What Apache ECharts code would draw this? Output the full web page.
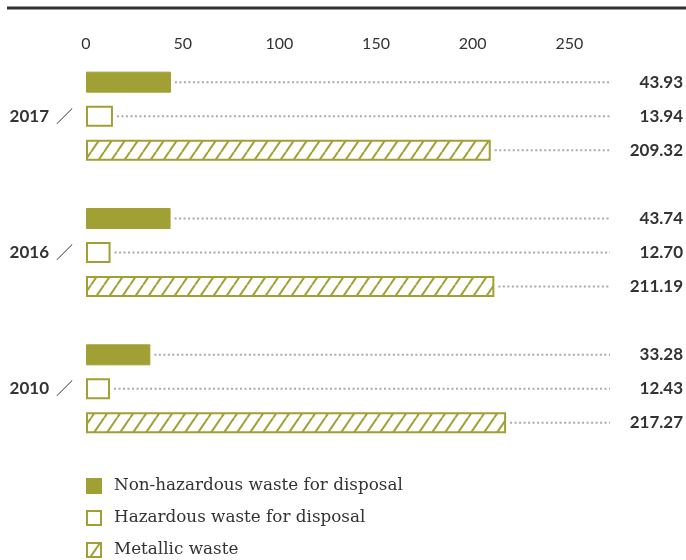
<!DOCTYPE html>
<html>
<head>
<meta charset="utf-8">
<script src="https://cdn.jsdelivr.net/npm/echarts@6/dist/echarts.min.js"></script>
<style>
  html, body { margin: 0; padding: 0; background: #fff; }
  #chart { width: 686px; height: 560px; }
</style>
</head>
<body>
<div id="chart"></div>
<script>
// data
const years = ['2017', '2016', '2010'];
const nonHazardous = [43.93, 43.74, 33.28];
const hazardous = [13.94, 12.70, 12.43];
const metallic = [209.32, 211.19, 217.27];
const seriesNames = ['Non-hazardous waste for disposal', 'Hazardous waste for disposal', 'Metallic waste'];
const xMax = 271;
const xStep = 50;

const olive = '#a1a034';
const barW = 21;
const gapRatio = 0.62;

// hatch pattern for metallic waste
function makeHatch() {
  const c = document.createElement('canvas');
  const w = 13, h = 19;
  c.width = w; c.height = h;
  const ctx = c.getContext('2d');
  ctx.fillStyle = '#fff';
  ctx.fillRect(0, 0, w, h);
  ctx.strokeStyle = olive;
  ctx.lineWidth = 2;
  [-w, 0, w].forEach(off => {
    ctx.beginPath();
    ctx.moveTo(off, h);
    ctx.lineTo(off + w, 0);
    ctx.stroke();
  });
  return c;
}

// rows for the dotted leader lines + value text
const rows = [];
[nonHazardous, hazardous, metallic].forEach((arr, k) => {
  arr.forEach((v, i) => rows.push([v, i, k]));
});

const chart = echarts.init(document.getElementById('chart'));

const option = {
  animation: false,
  grid: { left: 86, right: 76, top: 48, bottom: 103 },
  graphic: [{
    type: 'line',
    shape: { x1: 7, y1: 8, x2: 686, y2: 8 },
    style: { stroke: '#333', lineWidth: 3 }
  }],
  xAxis: {
    type: 'value',
    position: 'top',
    min: 0,
    max: xMax,
    interval: xStep,
    axisLine: { show: false },
    axisTick: { show: false },
    splitLine: { show: false },
    axisLabel: {
      margin: -4,
      showMaxLabel: false,
      color: '#333',
      fontFamily: 'Lato',
      fontSize: 16
    }
  },
  yAxis: {
    type: 'category',
    data: years,
    inverse: true,
    axisLine: { show: false },
    axisTick: { show: false },
    axisLabel: {
      margin: 13,
      formatter: v => '{y|' + v + '}{s|／}',
      rich: {
        y: { fontFamily: 'Lato', fontWeight: 'bold', fontSize: 17, color: '#333', padding: [0, 7, 0, 0] },
        s: { fontFamily: 'Noto Sans CJK SC', fontSize: 17, color: '#333' }
      }
    }
  },
  legend: {
    orient: 'vertical',
    left: 86,
    top: 477,
    height: 90,
    padding: 0,
    itemWidth: 14,
    itemHeight: 14,
    itemGap: 14,
    icon: 'rect',
    data: seriesNames,
    textStyle: { fontFamily: 'DejaVu Serif', fontSize: 16.8, lineHeight: 18, color: '#333', padding: [0, 0, 0, 8] }
  },
  series: [
    {
      name: seriesNames[0],
      type: 'bar',
      barWidth: barW,
      barGap: (gapRatio * 100) + '%',
      data: nonHazardous,
      itemStyle: { color: olive, borderColor: olive, borderWidth: 1 }
    },
    {
      name: seriesNames[1],
      type: 'bar',
      barWidth: barW,
      barGap: (gapRatio * 100) + '%',
      data: hazardous,
      itemStyle: { color: '#fff', borderColor: olive, borderWidth: 2 }
    },
    {
      name: seriesNames[2],
      type: 'bar',
      barWidth: barW,
      barGap: (gapRatio * 100) + '%',
      data: metallic,
      itemStyle: { color: { image: makeHatch(), repeat: 'repeat' }, borderColor: olive, borderWidth: 2 }
    },
    {
      type: 'custom',
      clip: false,
      silent: true,
      data: rows,
      encode: { x: 0, y: 1 },
      renderItem: function (params, api) {
        const v = api.value(0);
        const k = api.value(2);
        const p = api.coord([v, api.value(1)]);
        const y = p[1] + (k - 1) * barW * (1 + gapRatio);
        const cs = params.coordSys;
        const xEnd = cs.x + cs.width;
        return {
          type: 'group',
          children: [{
            type: 'line',
            shape: { x1: p[0] + 4, y1: y, x2: xEnd, y2: y },
            style: { stroke: '#aaa', lineWidth: 2, lineDash: [2, 2.5] }
          }, {
            type: 'text',
            x: xEnd + 73,
            y: y,
            style: {
              text: v.toFixed(2),
              align: 'right',
              verticalAlign: 'middle',
              fontFamily: 'Lato',
              fontWeight: 'bold',
              fontSize: 17,
              fill: '#333'
            }
          }]
        };
      }
    }
  ]
};

chart.setOption(option);
</script>
</body>
</html>
